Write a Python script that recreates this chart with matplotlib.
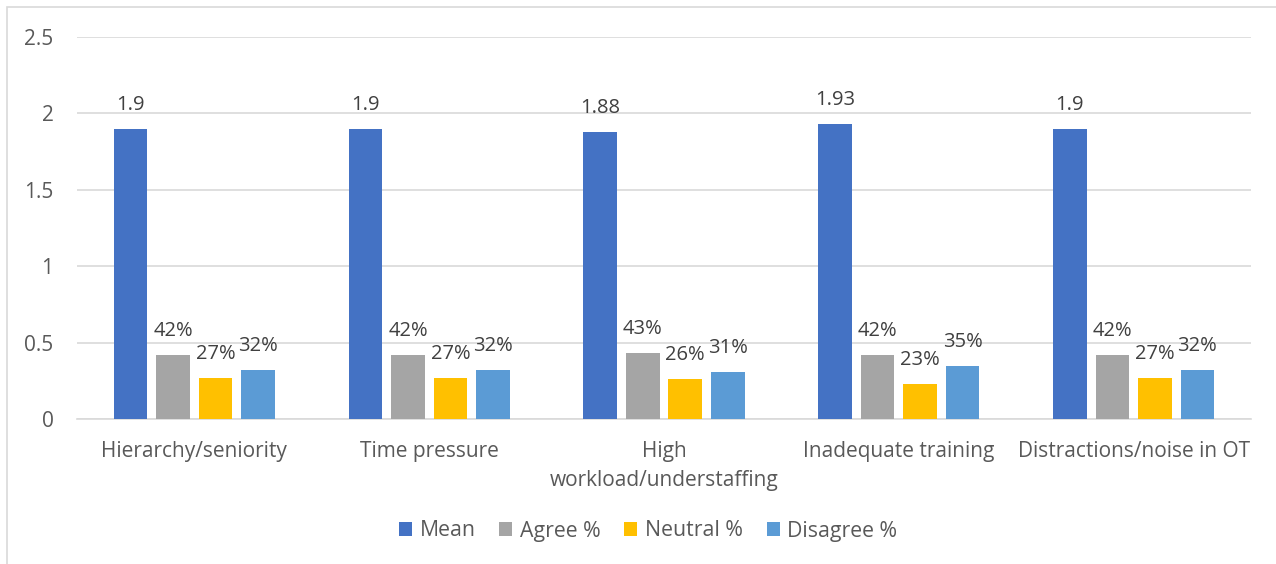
import matplotlib
matplotlib.use("Agg")
import matplotlib.pyplot as plt
from matplotlib.patches import Rectangle
import numpy as np

categories = ["Hierarchy/seniority", "Time pressure", "High\nworkload/understaffing",
              "Inadequate training", "Distractions/noise in OT"]
mean_vals = [1.9, 1.9, 1.88, 1.93, 1.9]
agree_vals = [0.42, 0.42, 0.43, 0.42, 0.42]
neutral_vals = [0.27, 0.27, 0.26, 0.23, 0.27]
disagree_vals = [0.32, 0.32, 0.31, 0.35, 0.32]
series_names = ["Mean", "Agree %", "Neutral %", "Disagree %"]
y_ticks = [0, 0.5, 1, 1.5, 2, 2.5]
y_tick_labels = ["0", "0.5", "1", "1.5", "2", "2.5"]

colors = ["#4472C4", "#A5A5A5", "#FFC000", "#5B9BD5"]
text_col = "#595959"
label_col = "#404040"
grid_col = "#D9D9D9"

plt.rcParams["font.family"] = ["Open Sans", "DejaVu Sans"]

fig = plt.figure(figsize=(12.76, 5.64), dpi=100)
ax = fig.add_axes([77 / 1276, 1 - 419 / 564, (1251 - 77) / 1276, (419 - 37) / 564])

# outer chart border
fig.patches.append(Rectangle((6.5 / 1276, -0.1), 1.2, 1 - 7 / 564 + 0.1,
                             transform=fig.transFigure, fill=False,
                             edgecolor="#D9D9D9", linewidth=1.2))

x = np.arange(len(categories))
slot = 0.181
width = 0.143
all_series = [mean_vals, agree_vals, neutral_vals, disagree_vals]
for i, (vals, name, col) in enumerate(zip(all_series, series_names, colors)):
    pos = x + (i - 1.5) * slot
    ax.bar(pos, vals, width=width, color=col, label=name, zorder=3)
    for xp, v in zip(pos, vals):
        txt = f"{v:g}" if i == 0 else f"{round(v * 100)}%"
        ax.annotate(txt, (xp, v), xytext=(0, 10), textcoords="offset points",
                    ha="center", va="bottom", fontsize=14.5, color=label_col)

ax.set_xlim(-0.5, len(categories) - 0.5)
ax.set_ylim(0, 2.5)
ax.set_yticks(y_ticks)
ax.set_yticklabels(y_tick_labels)
ax.set_xticks(x)
ax.set_xticklabels(categories, linespacing=1.5)
ax.tick_params(axis="both", length=0, labelsize=15, colors=text_col)
ax.tick_params(axis="y", pad=17)
ax.tick_params(axis="x", pad=16)
for lab in ax.get_xticklabels():
    lab.set_verticalalignment("top")

ax.grid(axis="y", color=grid_col, linewidth=1.2, zorder=0)
for s in ["top", "right", "left"]:
    ax.spines[s].set_visible(False)
ax.spines["bottom"].set_color(grid_col)
ax.spines["bottom"].set_linewidth(1.2)

ax.legend(loc="center", bbox_to_anchor=(648 / 1276, 1 - 531 / 564),
          bbox_transform=fig.transFigure, ncol=4, frameon=False,
          fontsize=15.3, labelcolor=text_col, handlelength=0.62, handleheight=0.62,
          handletextpad=0.35, columnspacing=1.12)

fig.savefig("out.png", dpi=100, facecolor="white")
